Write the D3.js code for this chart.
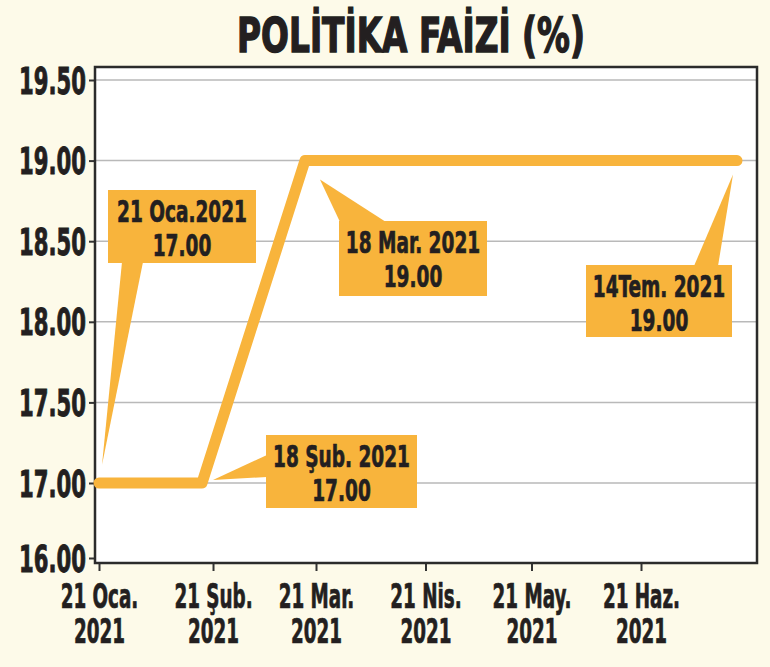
<!DOCTYPE html>
<html>
<head>
<meta charset="utf-8">
<title>Politika Faizi</title>
<style>
  body { margin: 0; background: #fdfae9; }
  svg { display: block; }
  text { font-family: "Liberation Sans Narrow", "DejaVu Sans Condensed", "DejaVu Sans", sans-serif; font-weight: bold; fill: #231f20; stroke: #231f20; stroke-width: 0.7px; }
  .title { font-size: 48px; stroke-width: 1.4px; }
  .ylab { font-size: 37px; stroke-width: 0.9px; }
  .xlab { font-size: 33px; }
  .clab { font-size: 31px; }
  .grid line { stroke: #b9b9b9; stroke-width: 1.5; }
</style>
</head>
<body>
<svg width="770" height="667"></svg>
<script src="https://d3js.org/d3.v7.min.js"></script>
<script>
// data
var dates = ["2021-01-21", "2021-02-18", "2021-03-18", "2021-07-14"];
var rates = [17.00, 17.00, 19.00, 19.00];
var xTickDates = ["2021-01-21", "2021-02-21", "2021-03-21", "2021-04-21", "2021-05-21", "2021-06-21"];
var xTickMonths = ["21 Oca.", "21 Şub.", "21 Mar.", "21 Nis.", "21 May.", "21 Haz."];
var xTickYears = ["2021", "2021", "2021", "2021", "2021", "2021"];
var yTicks = [16, 17, 17.5, 18, 18.5, 19, 19.5];
var calloutDates = ["21 Oca.2021", "18 Şub. 2021", "18 Mar. 2021", "14Tem. 2021"];
var calloutValues = ["17.00", "17.00", "19.00", "19.00"];

var parse = d3.timeParse("%Y-%m-%d");
var orange = "#f8b43c";

var svg = d3.select("svg");
var plot = { left: 95, right: 757, top: 67, bottom: 563 };

// scales (the printed axis is broken between 16 and 17, and spacing is uneven)
var x = d3.scaleTime()
    .domain([parse("2021-01-21"), parse("2021-03-21"), parse("2021-06-21"), parse("2021-07-14")])
    .range([99, 316, 641, 737]);
var y = d3.scaleLinear()
    .domain([16, 17, 19.5])
    .range([558, 483, 80]);

// plot background
svg.append("rect")
    .attr("x", plot.left).attr("y", plot.top)
    .attr("width", plot.right - plot.left).attr("height", plot.bottom - plot.top)
    .attr("fill", "#fff");

// grid
svg.append("g")
    .attr("class", "grid")
    .selectAll("line")
    .data(yTicks.filter(function (d) { return d > 16; }))
    .enter().append("line")
    .attr("x1", plot.left).attr("x2", plot.right)
    .attr("y1", function (d) { return y(d); })
    .attr("y2", function (d) { return y(d); });

// y axis
var yAxis = svg.append("g")
    .attr("transform", "translate(" + plot.left + ",0)")
    .call(d3.axisLeft(y).tickValues(yTicks).tickFormat(d3.format(".2f")).tickSize(6).tickPadding(3));
yAxis.select(".domain").remove();
yAxis.attr("font-size", null).attr("font-family", null);
yAxis.selectAll(".tick line").attr("stroke", "#333").attr("stroke-width", 2);
yAxis.selectAll(".tick text")
    .attr("class", "ylab")
    .attr("dy", null)
    .attr("y", 13)
    .attr("fill", null);

// x axis
var xAxis = svg.append("g")
    .attr("transform", "translate(0," + plot.bottom + ")")
    .call(d3.axisBottom(x).tickValues(xTickDates.map(parse)).tickSize(8).tickFormat(""));
xAxis.select(".domain").remove();
xAxis.attr("font-size", null).attr("font-family", null);
xAxis.selectAll(".tick line").attr("stroke", "#333").attr("stroke-width", 2);
xAxis.selectAll(".tick text").remove();
xAxis.selectAll(".tick").each(function (d, i) {
    var tk = d3.select(this);
    tk.append("text").attr("class", "xlab").attr("text-anchor", "middle")
        .attr("x", 0).attr("y", 45).text(xTickMonths[i]);
    tk.append("text").attr("class", "xlab").attr("text-anchor", "middle")
        .attr("x", 0).attr("y", 80).text(xTickYears[i]);
});

// frame
svg.append("rect")
    .attr("x", plot.left).attr("y", plot.top)
    .attr("width", plot.right - plot.left).attr("height", plot.bottom - plot.top)
    .attr("fill", "none")
    .attr("stroke", "#2b2b2b")
    .attr("stroke-width", 2.5);

// line
var points = dates.map(function (d, i) { return [parse(d), rates[i]]; });
svg.append("path")
    .datum(points)
    .attr("fill", "none")
    .attr("stroke", orange)
    .attr("stroke-width", 11)
    .attr("stroke-linecap", "round")
    .attr("stroke-linejoin", "round")
    .attr("d", d3.line().x(function (d) { return x(d[0]); }).y(function (d) { return y(d[1]); }));

// callouts: box, pointer base and tip offset from the data point
var calloutLayout = [
    { box: [108, 190, 148, 73], base: [[122, 262], [143, 262]], tip: [3, -18] },
    { box: [266, 435, 151, 73], base: [[267, 455], [267, 477]], tip: [11, -3] },
    { box: [339, 221, 148, 75], base: [[340, 222], [386, 222]], tip: [15, 19] },
    { box: [586, 265, 146, 72], base: [[694, 266], [718, 266]], tip: [-4, 14] }
];

var callouts = svg.append("g");
calloutLayout.forEach(function (c, i) {
    var px = x(parse(dates[i])), py = y(rates[i]);
    var tip = [px + c.tip[0], py + c.tip[1]];
    callouts.append("polygon")
        .attr("points", [c.base[0], c.base[1], tip].map(function (p) { return p.join(","); }).join(" "))
        .attr("fill", orange);
    callouts.append("rect")
        .attr("x", c.box[0]).attr("y", c.box[1])
        .attr("width", c.box[2]).attr("height", c.box[3])
        .attr("fill", orange);
    var cx = c.box[0] + c.box[2] / 2;
    callouts.append("text").attr("class", "clab").attr("text-anchor", "middle")
        .attr("x", cx).attr("y", c.box[1] + 32).text(calloutDates[i]);
    callouts.append("text").attr("class", "clab").attr("text-anchor", "middle")
        .attr("x", cx).attr("y", c.box[1] + 66).text(calloutValues[i]);
});

// title
svg.append("text")
    .attr("class", "title")
    .attr("x", 411).attr("y", 52)
    .attr("text-anchor", "middle")
    .text("POLİTİKA FAİZİ (%)");

// squeeze text horizontally to the condensed look of the original
function condense(cls, sample, target) {
    var tmp = svg.append("text").attr("class", cls).text(sample);
    var k = target / tmp.node().getComputedTextLength();
    tmp.remove();
    svg.selectAll("text." + cls).each(function () {
        var t = d3.select(this);
        var tx = +t.attr("x") || 0, ty = +t.attr("y") || 0;
        t.attr("x", 0).attr("y", 0)
            .attr("transform", "translate(" + tx + "," + ty + ") scale(" + k + ",1)");
    });
}
condense("title", "POLİTİKA FAİZİ (%)", 348);
condense("ylab", "17.00", 67);
condense("xlab", "2021", 51);
condense("clab", "18 Şub. 2021", 137);
</script>
</body>
</html>
